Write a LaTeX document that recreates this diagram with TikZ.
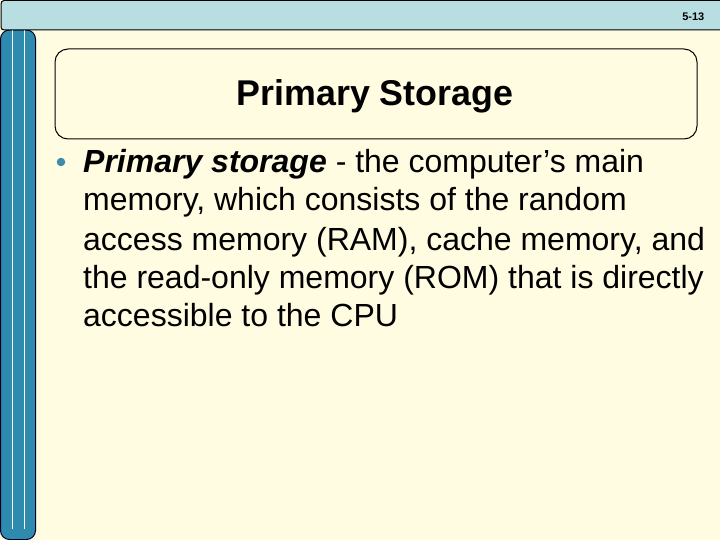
\documentclass[tikz,border=0pt]{standalone}
\usepackage{fontspec}
\setmainfont{Liberation Sans}
\definecolor{bgc}{RGB}{255,252,226}
\definecolor{headc}{RGB}{184,222,226}
\definecolor{barc}{RGB}{47,139,173}
\definecolor{bulc}{RGB}{62,140,170}
\tikzset{
  bodyline/.style={anchor=base west,inner sep=0pt,font=\fontsize{32}{36}\selectfont,text=black},
}
\begin{document}
\begin{tikzpicture}[x=1pt,y=-1pt]
\useasboundingbox (0,0) rectangle (720,540);
\fill[bgc] (0,0) rectangle (720,540);
% side bar
\draw[fill=barc,draw=black!85!blue,line width=1pt,rounded corners=9pt] (0.5,30) -- (35.5,30) -- (35.5,539.5) -- (0.5,539.5) -- cycle;
\draw[white!90!headc,line width=0.9pt] (12.5,30) -- (12.5,529);
\draw[white!90!headc,line width=0.9pt] (24.5,30) -- (24.5,529);
% header
\draw[fill=headc,draw=black,line width=1pt] (720,0.5) -- (4,0.5) to[out=180,in=90] (1,4) -- (1,27) to[out=-90,in=180] (4,30) -- (720,30);
\node[anchor=base east,inner sep=0pt,font=\bfseries\fontsize{11}{12}\selectfont] (num) at (704.5,21) {5-13};
% title box
\node[draw=black,line width=1pt,rounded corners=13pt,minimum width=642pt,minimum height=90pt,inner sep=0pt,anchor=north west] (box) at (54.5,48.5) {};
\node[anchor=base,inner sep=0pt,font=\bfseries\fontsize{35.8}{40}\selectfont] (title) at (375,105.5) {Primary Storage};
% bullet
\node[circle,fill=bulc,minimum size=8.5pt,inner sep=0pt] (bul) at (61,162) {};
% body
\node[bodyline] (l1) at (83,173) {\textbf{\textit{Primary storage}} - the computer’s main};
\node[bodyline] (l2) at (83,211) {memory, which consists of the random};
\node[bodyline] (l3) at (83,250) {access memory (RAM), cache memory, and};
\node[bodyline] (l4) at (83,288) {the read-only memory (ROM) that is directly};
\node[bodyline] (l5) at (83,326) {accessible to the CPU};
\end{tikzpicture}
\end{document}
